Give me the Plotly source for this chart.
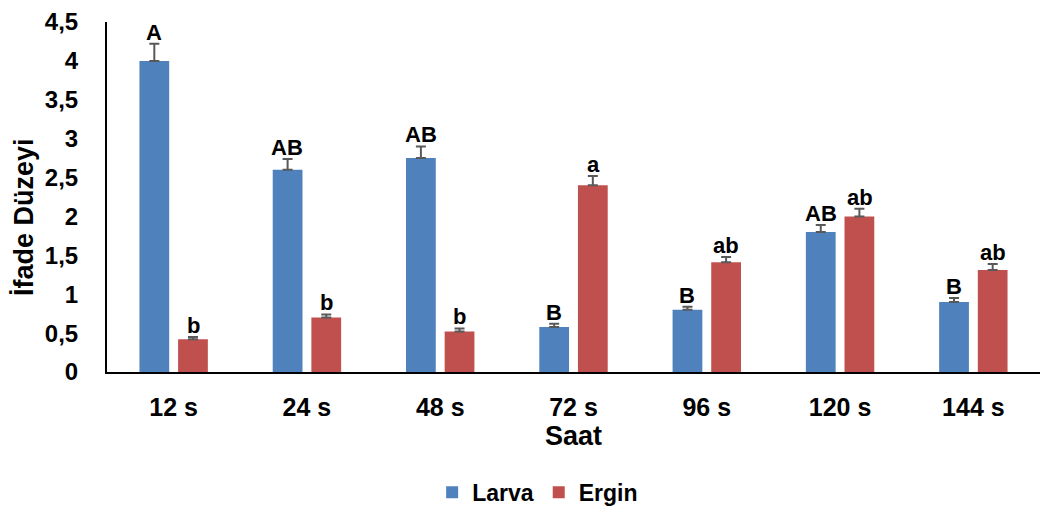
import plotly.graph_objects as go

categories = ["12 s", "24 s", "48 s", "72 s", "96 s", "120 s", "144 s"]
larva = [4.0, 2.6, 2.75, 0.58, 0.80, 1.80, 0.90]
larva_err = [0.22, 0.14, 0.15, 0.04, 0.04, 0.09, 0.05]
larva_lbl = ["A", "AB", "AB", "B", "B", "AB", "B"]
ergin = [0.42, 0.70, 0.52, 2.40, 1.41, 2.00, 1.31]
ergin_err = [0.03, 0.04, 0.04, 0.12, 0.07, 0.10, 0.08]
ergin_lbl = ["b", "b", "b", "a", "ab", "ab", "ab"]
yticks = [0, 0.5, 1, 1.5, 2, 2.5, 3, 3.5, 4, 4.5]
ytick_text = ["0", "0,5", "1", "1,5", "2", "2,5", "3", "3,5", "4", "4,5"]

FONT = "Liberation Sans"
BLUE = "#4F81BD"
RED = "#C0504D"

fig = go.Figure()
for name, vals, errs, col in [("Larva", larva, larva_err, BLUE), ("Ergin", ergin, ergin_err, RED)]:
    fig.add_trace(go.Bar(
        x=categories, y=vals, name="<b>%s</b>" % name,
        marker=dict(color=col, line=dict(width=0)),
        error_y=dict(type="data", array=errs, symmetric=False, arrayminus=[0]*len(errs),
                     color="#595959", thickness=2, width=5),
    ))

annotations = []
for vals, errs, lbls, shift in [(larva, larva_err, larva_lbl, -19.5), (ergin, ergin_err, ergin_lbl, 19.5)]:
    for c, v, e, t in zip(categories, vals, errs, lbls):
        annotations.append(dict(
            x=c, y=v + e, xref="x", yref="y", text="<b>%s</b>" % t, showarrow=False,
            xshift=shift, yanchor="bottom", yshift=-3,
            font=dict(family=FONT, size=22, color="black"),
        ))

# y-axis title (placed as rotated text, slightly below plot centre as in reference)
annotations.append(dict(
    text="<b>İfade Düzeyi</b>", xref="paper", yref="paper",
    x=(24 - 107) / 933, y=(372 - 217) / 350, xanchor="center", yanchor="middle",
    textangle=-90, showarrow=False, font=dict(family=FONT, size=27, color="black"),
))

fig.update_layout(
    width=1046, height=509,
    margin=dict(l=107, r=6, t=22, b=137, autoexpand=False),
    paper_bgcolor="white", plot_bgcolor="white",
    barmode="group", bargap=0.42, bargroupgap=0.23,
    font=dict(family=FONT, size=20, color="black"),
    showlegend=True,
    legend=dict(orientation="h", xref="container", yref="container",
                x=0.514, xanchor="center", y=0.033, yanchor="middle",
                font=dict(family=FONT, size=23, color="black"),
                traceorder="normal", itemwidth=30),
    annotations=annotations,
    xaxis=dict(
        automargin=False,
        showline=True, linecolor="black", linewidth=2, showgrid=False, ticks="",
        tickfont=dict(family=FONT, size=25, color="black"),
        tickprefix="<b>", ticksuffix="</b>", ticklabelstandoff=12,
        title=dict(text="<b>Saat</b>", font=dict(family=FONT, size=27, color="black"), standoff=3),
    ),
    yaxis=dict(
        automargin=False,
        range=[0, 4.5], showline=True, linecolor="black", linewidth=2, showgrid=False,
        zeroline=False, ticks="", tickvals=yticks, ticktext=["<b>%s</b>" % t for t in ytick_text],
        tickfont=dict(family=FONT, size=24, color="black"), ticklabelstandoff=22,
    ),
)

fig.write_html("out.html")
